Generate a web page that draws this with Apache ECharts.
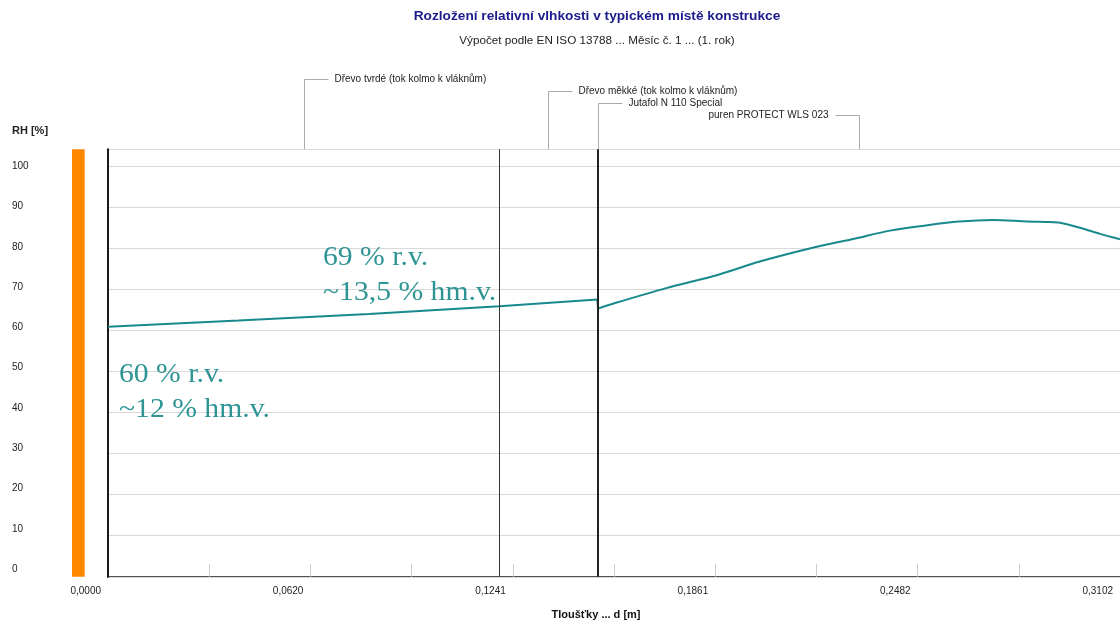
<!DOCTYPE html>
<html><head><meta charset="utf-8">
<script src="https://cdn.jsdelivr.net/npm/echarts@6/dist/echarts.min.js"></script>
<style>html,body{margin:0;padding:0;background:#fff}#c{width:1120px;height:625px}</style>
</head><body><div id="c"></div>
<script>
// ---- data ----
const titleText = 'Rozložení relativní vlhkosti v typickém místě konstrukce';
const subtitleText = 'Výpočet podle EN ISO 13788 ... Měsíc č. 1 ... (1. rok)';
const yAxisTitle = 'RH [%]';
const xAxisTitle = 'Tloušťky ... d [m]';
const layerNames = ['Dřevo tvrdé (tok kolmo k vláknům)', 'Dřevo měkké (tok kolmo k vláknům)', 'Jutafol N 110 Special', 'puren PROTECT WLS 023'];
const layerThickness = [0.12, 0.03, 0.0002, 0.16];
const positionX = [0, 0.04, 0.08, 0.12, 0.15, 0.1502, 0.1552, 0.1711, 0.1869, 0.1995, 0.2154, 0.2291, 0.2397, 0.2502, 0.2608, 0.2713, 0.2819, 0.2882, 0.2918, 0.2979, 0.3041, 0.3102];
const rhValues  = [60.9, 62.4, 64.0, 65.9, 67.5, 65.3, 66.6, 70.3, 73.5, 76.7, 80.0, 82.4, 84.3, 85.5, 86.5, 86.9, 86.5, 86.4, 86.2, 85.0, 83.5, 82.2];
const yTicks = [0, 10, 20, 30, 40, 50, 60, 70, 80, 90, 100];
const annotationTop = ['69 % r.v.', '~13,5 % hm.v.'];
const annotationBottom = ['60 % r.v.', '~12 % hm.v.'];

// ---- derived ----
const totalThickness = +layerThickness.reduce((a, b) => a + b, 0).toFixed(4);
const xStep = totalThickness / 10;
const boundaries = [];
let acc = 0;
const mids = [];
layerThickness.forEach(t => { mids.push(acc + t / 2); acc += t; boundaries.push(+acc.toFixed(4)); });
const yMax = 104.1;
const pairs = positionX.map((x, i) => [x, rhValues[i]]);
const splitIdx = positionX.indexOf(0.1502);

const chart = echarts.init(document.getElementById('c'), null, {renderer: 'canvas'});
const baseFont = '"Liberation Sans", Arial, sans-serif';
const lineColor = '#18898b';

chart.setOption({
  animation: false,
  grid: {left: 108, right: 0, top: 149.3, bottom: 48.2, containLabel: false},
  xAxis: [{
    type: 'value', min: 0, max: totalThickness, interval: xStep, z: 0,
    axisLine: {show: true, onZero: false, lineStyle: {color: '#1a1a1a', width: 2}},
    axisTick: {show: true, inside: true, length: 13, lineStyle: {color: '#cccccc', width: 1}},
    splitLine: {show: false},
    axisLabel: {
      show: true, margin: 9, color: '#222', fontSize: 10, fontFamily: baseFont,
      align: 'right', padding: [0, 7, 0, 0],
      showMaxLabel: true, showMinLabel: true,
      formatter: function (v) {
        const k = Math.round(v / xStep);
        if (k % 2 !== 0) return '';
        return (k * xStep).toFixed(4).replace('.', ',');
      }
    }
  }, {
    type: 'value', position: 'top', min: 0, max: totalThickness,
    axisLine: {show: true, lineStyle: {color: '#666', width: 1.5}},
    axisTick: {show: false}, axisLabel: {show: false}, splitLine: {show: false}
  }],
  yAxis: {
    type: 'value', min: 0, max: yMax, interval: 10, z: 3,
    axisLine: {show: true, lineStyle: {color: '#1a1a1a', width: 2}},
    axisTick: {show: false},
    splitLine: {show: true, lineStyle: {color: '#d9d9d9', width: 1}},
    axisLabel: {show: false}
  },
  series: [{
    type: 'line',
    data: pairs.slice(0, splitIdx + 1),
    showSymbol: false, smooth: false, z: 4,
    lineStyle: {color: lineColor, width: 2},
    markLine: {
      silent: true, symbol: 'none', label: {show: false},
      data: [
        {xAxis: boundaries[0], lineStyle: {color: '#333', width: 1, type: 'solid'}},
        {xAxis: boundaries[1], lineStyle: {color: '#222', width: 2, type: 'solid'}}
      ]
    }
  }, {
    type: 'line',
    data: pairs.slice(splitIdx),
    showSymbol: false, smooth: 0.3, z: 4,
    lineStyle: {color: lineColor, width: 2}
  }]
});

// ---- decorations positioned through the axes ----
const gTop = chart.convertToPixel({yAxisIndex: 0}, yMax);
const gBot = chart.convertToPixel({yAxisIndex: 0}, 0);
const p100 = chart.convertToPixel({yAxisIndex: 0}, 100);
const leaderY = [79, 91, 103, 115];
const graphics = [];
graphics.push({type: 'rect', shape: {x: 72, y: gTop, width: 12.7, height: gBot - gTop}, style: {fill: '#ff8800'}});
// y tick labels (placed at the left edge, slightly compressed spacing as in the original)
yTicks.forEach(v => {
  const py = chart.convertToPixel({yAxisIndex: 0}, v);
  graphics.push({type: 'text', x: 12, y: p100 + (py - p100) * 0.9815, style: {text: String(v), fill: '#222', font: '10px ' + baseFont, textAlign: 'left', textVerticalAlign: 'middle'}});
});
layerNames.forEach((name, i) => {
  const lx = Math.round(chart.convertToPixel({xAxisIndex: 0}, mids[i])) + 0.5;
  const ly = leaderY[i] + 0.5;
  const right = i === 3;
  const ex = right ? lx - 24 : lx + 24;
  graphics.push({type: 'polyline', shape: {points: [[lx, gTop], [lx, ly], [ex, ly]]}, style: {stroke: '#aaaaaa', lineWidth: 1, fill: null}});
  graphics.push({type: 'text', x: right ? lx - 31 : lx + 30, y: ly, style: {text: name, fill: '#222', font: '10px ' + baseFont, textAlign: right ? 'right' : 'left', textVerticalAlign: 'middle'}});
});
graphics.push({type: 'text', x: 597, y: 16, style: {text: titleText, fill: '#1b1b8c', font: 'bold 13.7px ' + baseFont, textAlign: 'center', textVerticalAlign: 'middle'}});
graphics.push({type: 'text', x: 597, y: 41, style: {text: subtitleText, fill: '#222', font: '11.7px ' + baseFont, textAlign: 'center', textVerticalAlign: 'middle'}});
graphics.push({type: 'text', x: 12, y: 131, style: {text: yAxisTitle, fill: '#222', font: 'bold 11px ' + baseFont, textAlign: 'left', textVerticalAlign: 'middle'}});
graphics.push({type: 'text', x: 596, y: 615, style: {text: xAxisTitle, fill: '#111', font: 'bold 11px ' + baseFont, textAlign: 'center', textVerticalAlign: 'middle'}});
const serif = '28px "Liberation Serif", "Times New Roman", serif';
const annoColor = '#2e9494';
[[annotationTop, 323, 258], [annotationBottom, 119, 375]].forEach(([lines, x, y]) => {
  lines.forEach((t, j) => {
    graphics.push({type: 'text', z: 20, x: x, y: y + j * 34.5, scaleX: 1.06, style: {text: t, fill: annoColor, font: serif, textAlign: 'left', textVerticalAlign: 'middle'}});
  });
});
chart.setOption({graphic: graphics});
</script>
</body></html>
